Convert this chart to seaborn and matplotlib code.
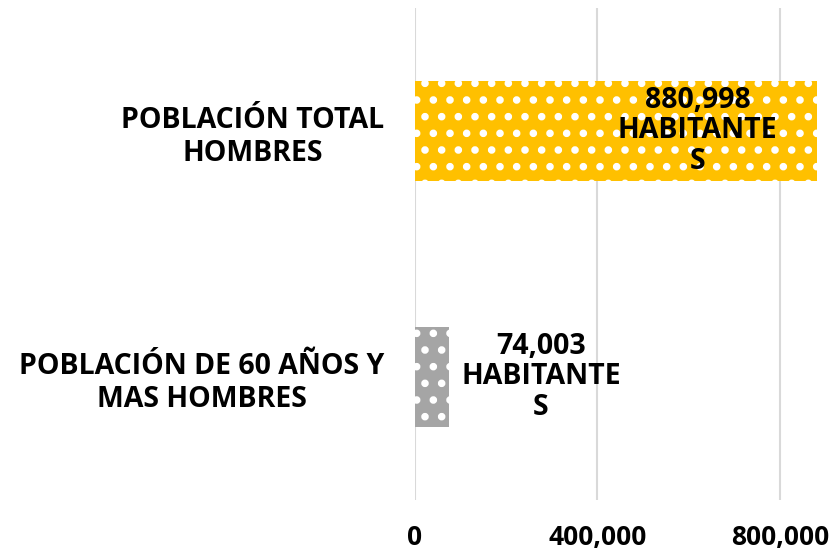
import matplotlib
matplotlib.use('Agg')
import matplotlib.pyplot as plt
import seaborn as sns
import pandas as pd
from matplotlib.ticker import FuncFormatter

# datos del gráfico
categorias = ['POBLACIÓN TOTAL\nHOMBRES', 'POBLACIÓN DE 60 AÑOS Y\nMAS HOMBRES']
valores = [880998, 74003]
etiquetas = ['880,998\nHABITANTE\nS', '74,003\nHABITANTE\nS']
colores = ['#FFC000', '#A5A5A5']
ticks_x = [0, 400000, 800000]

sns.set_theme(style='white')
plt.rcParams['font.family'] = ['Open Sans', 'DejaVu Sans']
plt.rcParams['hatch.color'] = 'white'
plt.rcParams['hatch.linewidth'] = 3.0

df = pd.DataFrame({'categoria': categorias, 'valor': valores})

fig = plt.figure(figsize=(8.35, 5.55), dpi=100)
ax = fig.add_axes([415 / 835, 55 / 555, 405 / 835, 492 / 555])

sns.barplot(data=df, x='valor', y='categoria', hue='categoria', palette=colores,
            saturation=1, legend=False, width=0.41, ax=ax, zorder=2)

for barra in ax.patches:
    barra.set_hatch('.')
    barra.set_edgecolor('white')
    barra.set_linewidth(0)

ax.set_xlim(0, 888000)
ax.set_xticks(ticks_x)
ax.xaxis.set_major_formatter(FuncFormatter(lambda v, p: f'{int(v):,}'))
ax.grid(axis='x', color='#D9D9D9', linewidth=1.5, zorder=0)
ax.set_xlabel('')
ax.set_ylabel('')
for s in ax.spines.values():
    s.set_visible(False)

ax.tick_params(axis='x', length=0, pad=17, labelsize=19)
ax.tick_params(axis='y', length=0, pad=22, labelsize=20.5)
for t in ax.get_xticklabels():
    t.set_fontweight('bold')
    t.set_color('black')
for t in ax.get_yticklabels():
    t.set_fontweight('bold')
    t.set_color('black')
    t.set_multialignment('center')
    t.set_linespacing(1.22)

# posiciones de las etiquetas de datos
pos_etiquetas = [620000, 276000]
for i, (txt, xp) in enumerate(zip(etiquetas, pos_etiquetas)):
    ax.text(xp, i, txt, ha='center', va='center', fontsize=20.5,
            fontweight='bold', color='black', linespacing=1.05, zorder=3)

fig.savefig('out.png', dpi=100)
